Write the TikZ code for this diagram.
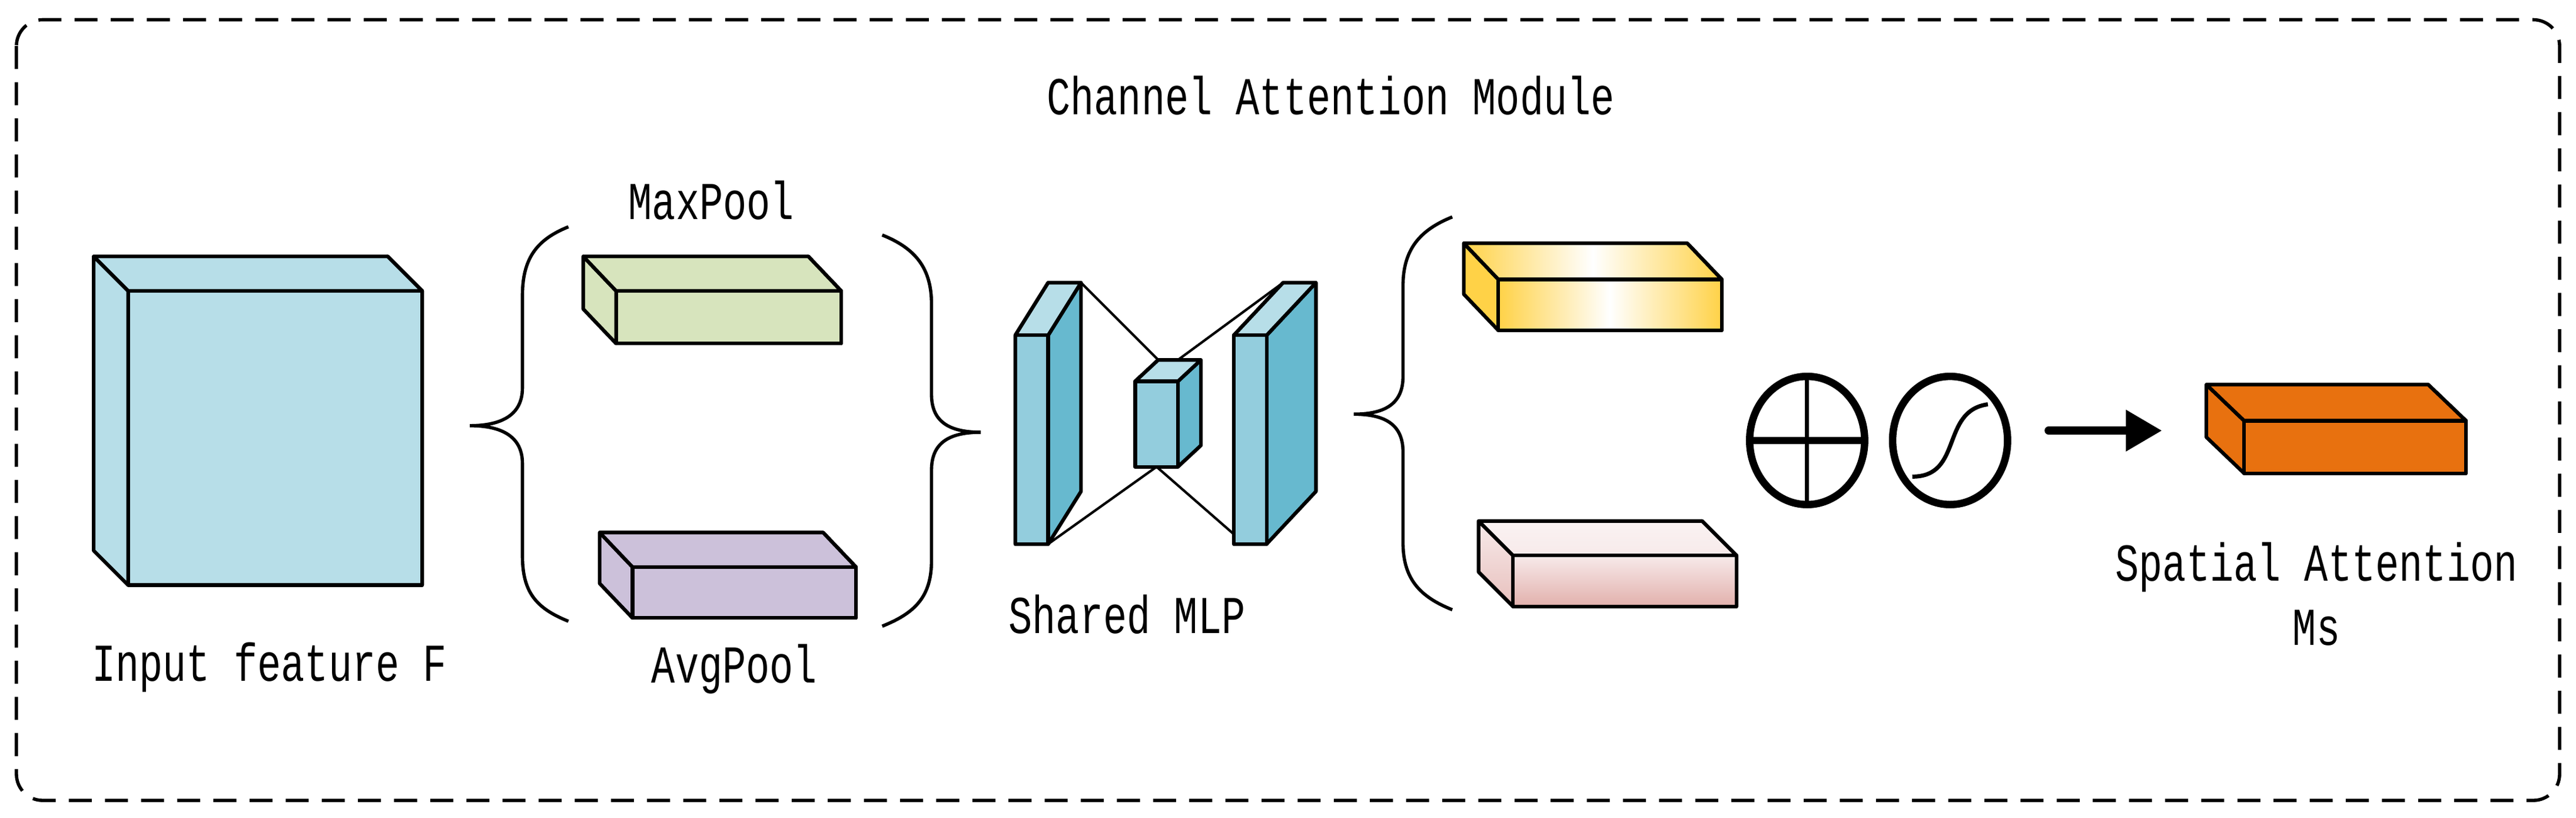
\documentclass[tikz,border=0pt]{standalone}
\usepackage{fontspec}
\setmainfont{Liberation Mono}
\usetikzlibrary{arrows.meta,shapes.geometric}
\definecolor{cblue}{HTML}{B7DEE8}
\definecolor{mfront}{HTML}{93CDDD}
\definecolor{mside}{HTML}{67B9CF}
\definecolor{cgreen}{HTML}{D7E4BD}
\definecolor{cpurple}{HTML}{CCC1DA}
\definecolor{cyel}{HTML}{FFD247}
\definecolor{cpink}{HTML}{E2B0AC}
\definecolor{cpinkl}{HTML}{F7EAEA}
\definecolor{corange}{HTML}{E8710F}
\newcommand\lbl[1]{\scalebox{1}[1.35]{#1}}
% x1 y1 x2 y2 dx dy front top side
\newcommand\cuboid[9]{%
  \draw[edge,#9] (#1,#2) -- ({#1+#5},{#2+#6}) -- ({#1+#5},{#4+#6}) -- (#1,#4) -- cycle;
  \draw[edge,#9] (#3,#2) -- ({#3+#5},{#2+#6}) -- ({#3+#5},{#4+#6}) -- (#3,#4) -- cycle;
  \draw[edge,#8] (#1,#2) -- ({#1+#5},{#2+#6}) -- ({#3+#5},{#2+#6}) -- (#3,#2) -- cycle;
  \draw[edge,#7] (#1,#2) rectangle (#3,#4);}
\begin{document}
\begin{tikzpicture}[x=1pt,y=-1pt,
  edge/.style={line width=2.2pt,line join=round},
  txt/.style={font=\fontsize{24}{28}\selectfont,inner sep=0pt},
  brace/.style={line width=2pt}]
\useasboundingbox (0,0) rectangle (1568,497.7);
\draw[line width=2pt,dash pattern=on 14pt off 8pt,rounded corners=16pt] (10,12) rectangle (1558,487);
\node[txt] (title) at (810,58) {\lbl{Channel Attention Module}};
% input cube
\cuboid{78}{177}{257}{356}{-21}{-21}{fill=cblue}{fill=cblue}{fill=cblue}
\node[txt] (lin) at (164,406) {\lbl{Input feature F}};
% left brace
\draw[brace] (346,138) .. controls (326,146) and (318,158) .. (318,180) -- (318,236)
  .. controls (318,252) and (306,259) .. (286,259) .. controls (306,259) and (318,266) .. (318,282)
  -- (318,338) .. controls (318,360) and (326,370) .. (346,378);
% right brace
\draw[brace] (537,143) .. controls (557,151) and (567,163) .. (567,185) -- (567,240)
  .. controls (567,256) and (577,263) .. (597,263) .. controls (577,263) and (567,270) .. (567,286)
  -- (567,341) .. controls (567,363) and (557,373) .. (537,381);
\cuboid{375}{177}{512}{209}{-20}{-21}{fill=cgreen}{fill=cgreen}{fill=cgreen}
\node[txt] (lmax) at (433,122) {\lbl{MaxPool}};
\cuboid{385}{345}{521}{376}{-20}{-21}{fill=cpurple}{fill=cpurple}{fill=cpurple}
\node[txt] (lavg) at (447,407) {\lbl{AvgPool}};
% shared MLP
\coordinate (a1) at (658,172); \coordinate (a2) at (638,331);
\coordinate (m1) at (705,219); \coordinate (m2) at (717,219);
\coordinate (m3) at (704,284); \coordinate (b1) at (781,172); \coordinate (b2) at (751,325);
\draw[line width=1.5pt] (a1) -- (m1) (m2) -- (b1) (a2) -- (m3) -- (b2);
\cuboid{618}{204}{638}{331}{20}{-32}{fill=mfront}{fill=cblue}{fill=mside}
\cuboid{691}{232}{717}{284}{14}{-13}{fill=mfront}{fill=cblue}{fill=mside}
\cuboid{751}{204}{771}{331}{30}{-32}{fill=mfront}{fill=cblue}{fill=mside}
\node[txt] (lmlp) at (686,374) {\lbl{Shared MLP}};
% third brace
\draw[brace] (884,132) .. controls (864,140) and (854,152) .. (854,174) -- (854,229)
  .. controls (854,245) and (844,252) .. (824,252) .. controls (844,252) and (854,259) .. (854,275)
  -- (854,330) .. controls (854,352) and (864,363) .. (884,371);
\cuboid{912}{170}{1048}{201}{-21}{-22}{left color=cyel,right color=cyel,middle color=white}{left color=cyel,right color=cyel,middle color=white}{fill=cyel}
\cuboid{921}{338}{1057}{369}{-21}{-21}{top color=cpinkl,bottom color=cpink}{top color=cpinkl!60!white,bottom color=cpinkl}{top color=cpinkl,bottom color=cpink!80!white}
% operators
\node[draw,line width=4.5pt,ellipse,minimum width=70pt,minimum height=78pt,inner sep=0pt] (plus) at (1100,268) {};
\draw[line width=2.5pt] (plus.north) -- (plus.south);
\draw[line width=4.5pt] (plus.west) -- (plus.east);
\node[draw,line width=4.5pt,ellipse,minimum width=70pt,minimum height=78pt,inner sep=0pt] (sig) at (1187,268) {};
\draw[line width=2.5pt] (1164,290) .. controls (1195,290) and (1181,250) .. (1210,246);
\coordinate (arS) at (1247,262); \coordinate (arE) at (1316,262);
\draw[line width=5pt,line cap=round,-{Triangle[length=22pt,width=24pt]}] (arS) -- (arE);
\cuboid{1366}{256}{1501}{288}{-23}{-22}{fill=corange}{fill=corange}{fill=corange}
\node[txt] (lsp) at (1410,345) {\lbl{Spatial Attention}};
\node[txt] (lms) at (1410,382) {\lbl{Ms}};
\end{tikzpicture}
\end{document}
